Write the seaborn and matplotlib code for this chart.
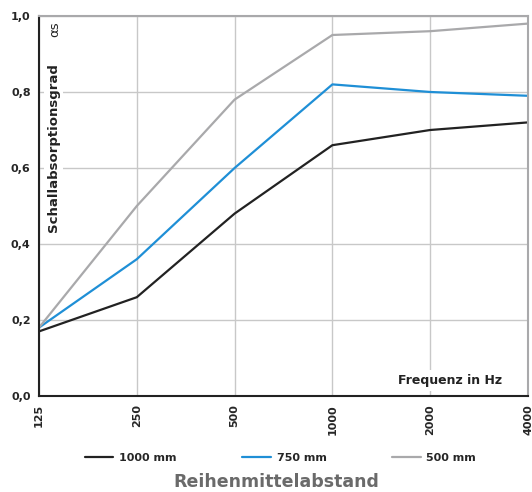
import pandas as pd
import matplotlib
matplotlib.use("Agg")
import matplotlib.pyplot as plt
import seaborn as sns

freqs = ["125", "250", "500", "1000", "2000", "4000"]
series_names = ["1000 mm", "750 mm", "500 mm"]
vals_1000 = [0.17, 0.26, 0.48, 0.66, 0.70, 0.72]
vals_750 = [0.18, 0.36, 0.60, 0.82, 0.80, 0.79]
vals_500 = [0.18, 0.50, 0.78, 0.95, 0.96, 0.98]
colors = ["#222222", "#1f8fd6", "#a9a9ab"]

rows = []
for name, vals in zip(series_names, [vals_1000, vals_750, vals_500]):
    for i, (f, v) in enumerate(zip(freqs, vals)):
        rows.append({"pos": i, "freq": f, "alpha": v, "series": name})
df = pd.DataFrame(rows)

sns.set_style("white")
plt.rcParams["font.family"] = ["DejaVu Sans"]

fig = plt.figure(figsize=(5.32, 4.92), dpi=100)
ax = fig.add_axes([0.0733, 0.1951, 0.9192, 0.7724])

sns.lineplot(data=df, x="pos", y="alpha", hue="series", hue_order=series_names,
             palette=colors, linewidth=1.6, ax=ax, legend=True)

ax.set_xlim(0, 5)
ax.set_ylim(0, 1.0)
ax.set_xticks(range(len(freqs)))
ax.set_xticklabels(freqs, rotation=90, fontweight="bold", fontsize=8)
yt = [0.0, 0.2, 0.4, 0.6, 0.8, 1.0]
ax.set_yticks(yt)
ax.set_yticklabels([f"{t:.1f}".replace(".", ",") for t in yt], fontweight="bold", fontsize=8)
ax.tick_params(axis="both", direction="out", length=4, width=1, color="#222222", pad=2)
ax.grid(True, color="#c8c8c8", linewidth=1)
ax.set_axisbelow(True)
ax.set_xlabel("")
ax.set_ylabel("")

ax.spines["left"].set_color("#222222")
ax.spines["bottom"].set_color("#222222")
ax.spines["top"].set_color("#a9a9ab")
ax.spines["right"].set_color("#a9a9ab")
for s in ax.spines.values():
    s.set_linewidth(1.5)

ax.text(0.03, 0.875, "Schallabsorptionsgrad", rotation=90, transform=ax.transAxes,
        ha="center", va="top", fontsize=9.5, fontweight="bold", color="#222222",
        bbox=dict(facecolor="white", edgecolor="none", pad=2))
ax.text(0.033, 0.985, "αs", rotation=90, transform=ax.transAxes,
        ha="center", va="top", fontsize=9.5, color="#222222")
ax.text(0.947, 0.04, "Frequenz in Hz", transform=ax.transAxes,
        ha="right", va="center", fontsize=9, fontweight="bold", color="#222222",
        bbox=dict(facecolor="white", edgecolor="none", pad=3))

handles, labels = ax.get_legend_handles_labels()
ax.get_legend().remove()
fig.legend(handles, labels, loc="center", bbox_to_anchor=(0.527, 0.069), ncol=3,
           frameon=False, handlelength=2.6, handletextpad=0.5, columnspacing=5.9,
           prop={"weight": "bold", "size": 8})
fig.text(0.519, 0.02, "Reihenmittelabstand", ha="center", va="center",
         fontsize=12.5, fontweight="bold", color="#6a6a6a")

fig.savefig("out.png", dpi=100)
